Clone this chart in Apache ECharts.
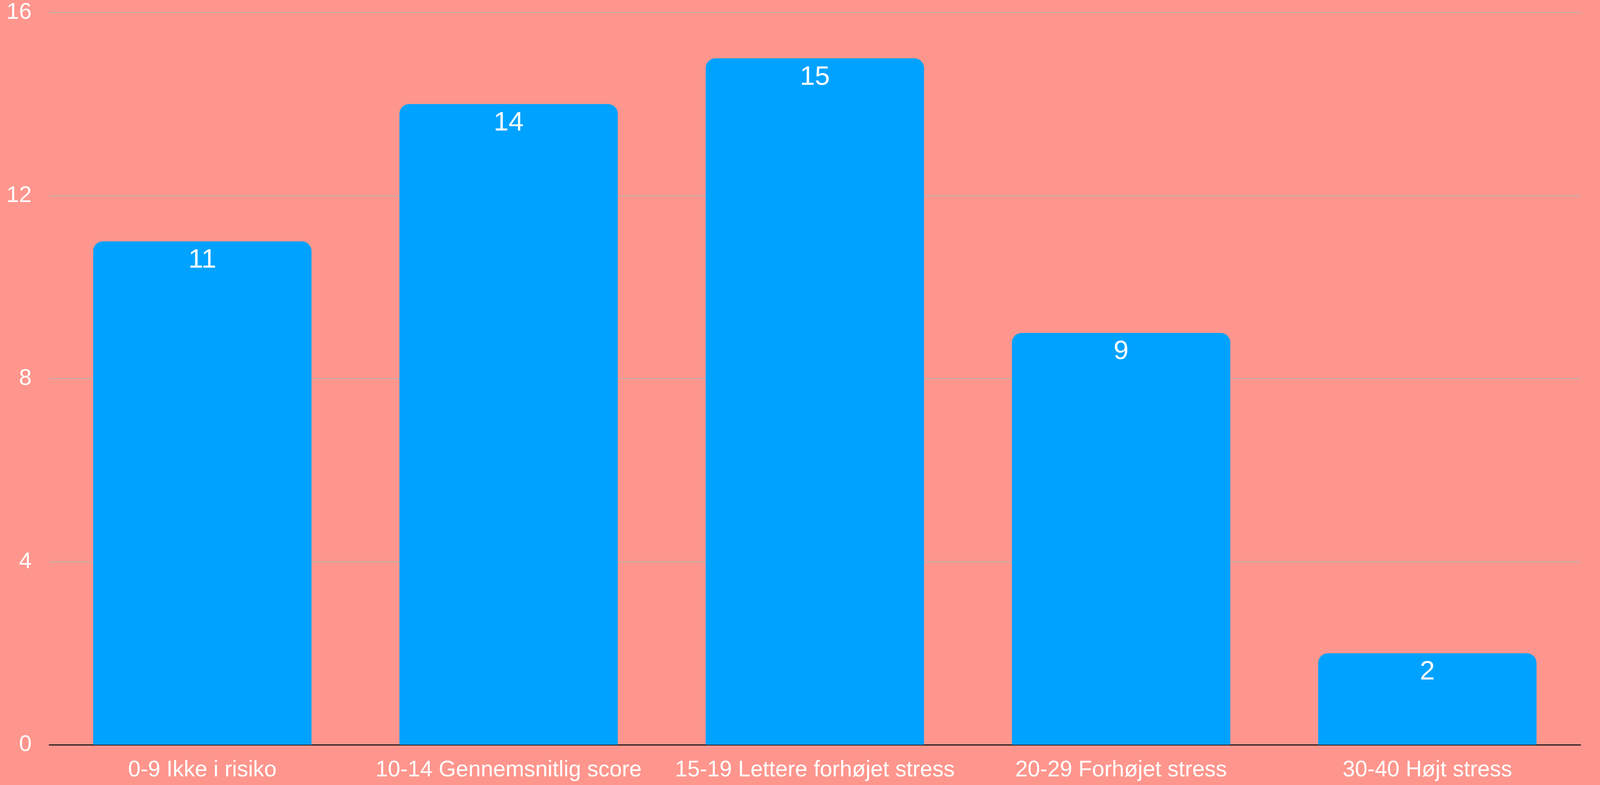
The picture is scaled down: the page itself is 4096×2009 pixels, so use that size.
<!DOCTYPE html>
<html>
<head>
<meta charset="utf-8">
<script src="https://cdn.jsdelivr.net/npm/echarts@6/dist/echarts.min.js"></script>
<style>
html,body{margin:0;padding:0;background:#FF968D;}
#chart{width:4096px;height:2009px;}
</style>
</head>
<body>
<div id="chart"></div>
<script>
var categories = ['0-9 Ikke i risiko', '10-14 Gennemsnitlig score', '15-19 Lettere forhøjet stress', '20-29 Forhøjet stress', '30-40 Højt stress'];
var values = [11, 14, 15, 9, 2];
var yMin = 0, yMax = 16, yInterval = 4;

var FONT = '"Liberation Sans", Arial, Helvetica, sans-serif';
var chart = echarts.init(document.getElementById('chart'), null, {renderer: 'canvas'});
chart.setOption({
  backgroundColor: '#FF968D',
  animation: false,
  grid: {left: 126, right: 50, top: 32, bottom: 103, containLabel: false},
  xAxis: {
    type: 'category',
    data: categories,
    axisLine: {show: true, lineStyle: {color: '#000000', width: 2.5}},
    axisTick: {show: false},
    axisLabel: {color: '#FFFFFF', fontSize: 57, fontFamily: FONT, margin: 37, interval: 0}
  },
  yAxis: {
    type: 'value',
    min: yMin, max: yMax, interval: yInterval,
    axisLine: {show: false},
    axisTick: {show: false},
    splitLine: {show: true, lineStyle: {color: '#B9B4B1', width: 2}},
    axisLabel: {color: '#FFFFFF', fontSize: 58, fontFamily: FONT, margin: 45}
  },
  series: [{
    type: 'bar',
    data: values,
    barWidth: '71.3%',
    itemStyle: {color: '#00A2FF', borderRadius: [25, 25, 0, 0]},
    label: {show: true, position: 'insideTop', distance: 14, color: '#FFFFFF', fontSize: 69, fontFamily: FONT}
  }]
});
</script>
</body>
</html>
